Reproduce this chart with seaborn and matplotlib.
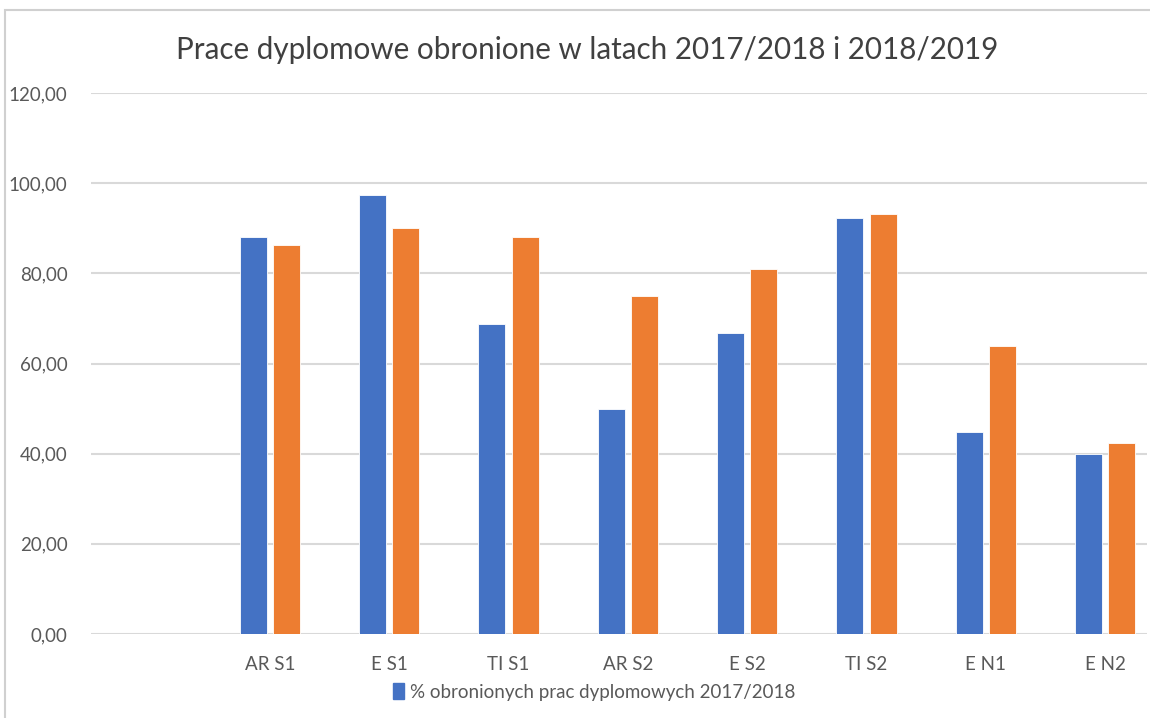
import matplotlib
matplotlib.use("Agg")
import matplotlib.pyplot as plt
import matplotlib.patches as mpatches
from matplotlib.ticker import FuncFormatter
import seaborn as sns
import pandas as pd
import numpy as np

categories = ["", "AR S1", "E S1", "TI S1", "AR S2", "E S2", "TI S2", "E N1", "E N2"]
series_names = ["% obronionych prac dyplomowych 2017/2018",
                "% obronionych prac dyplomowych 2018/2019"]
values_2017 = [np.nan, 88.1, 97.4, 68.8, 50.0, 66.7, 92.2, 44.9, 40.0]
values_2018 = [np.nan, 86.2, 90.1, 88.1, 75.0, 80.9, 93.2, 63.9, 42.3]
y_ticks = [0, 20, 40, 60, 80, 100, 120]
title = "Prace dyplomowe obronione w latach 2017/2018 i 2018/2019"

colors = ["#4472C4", "#ED7D31"]
grey = "#595959"

sns.set_theme(style="white")
plt.rcParams["font.family"] = ["Lato", "DejaVu Sans"]

df = pd.DataFrame({
    "kat": categories * 2,
    "seria": [series_names[0]] * len(categories) + [series_names[1]] * len(categories),
    "wartosc": values_2017 + values_2018,
})

W, H = 1150, 718
fig = plt.figure(figsize=(W / 100, H / 100), dpi=100)
ax = fig.add_axes([91 / W, (H - 634) / H, (1147 - 91) / W, 541 / H])

sns.barplot(data=df, x="kat", y="wartosc", hue="seria", order=categories,
            hue_order=series_names, palette=colors, width=0.56, gap=0.19,
            saturation=1, edgecolor="white", linewidth=0.6, ax=ax, legend=False,
            errorbar=None)

ax.set_ylim(0, 120)
ax.set_xlim(-0.5, -0.5 + (1147 - 91) / 119.3)
ax.set_yticks(y_ticks)
ax.yaxis.set_major_formatter(FuncFormatter(lambda v, p: f"{v:.2f}".replace(".", ",")))
ax.grid(axis="y", color="#d9d9d9", linewidth=1.5)
ax.set_axisbelow(True)
for s in ax.spines.values():
    s.set_visible(False)
ax.tick_params(axis="y", length=0, pad=17, labelsize=13.5, labelcolor=grey)
ax.tick_params(axis="x", length=0, pad=16, labelsize=13.5, labelcolor=grey)
ax.set_xlabel("")
ax.set_ylabel("")

fig.text(587 / W, 1 - 50 / H, title, ha="center", va="center", fontsize=21.3, color="#404040")

handle = mpatches.Patch(color=colors[0], label=series_names[0])
fig.legend(handles=[handle], loc="center", bbox_to_anchor=(594 / W, 1 - 692 / H),
           frameon=False, fontsize=13.5, labelcolor=grey, handlelength=0.6,
           handleheight=0.9, handletextpad=0.3)

# chart frame
fig.add_artist(mpatches.Rectangle((5 / W, -0.1), 1.2, 1 - 10 / H + 0.1,
                                  transform=fig.transFigure, fill=False,
                                  edgecolor="#d0d0d0", linewidth=1.5))

fig.savefig("out.png", dpi=100)
